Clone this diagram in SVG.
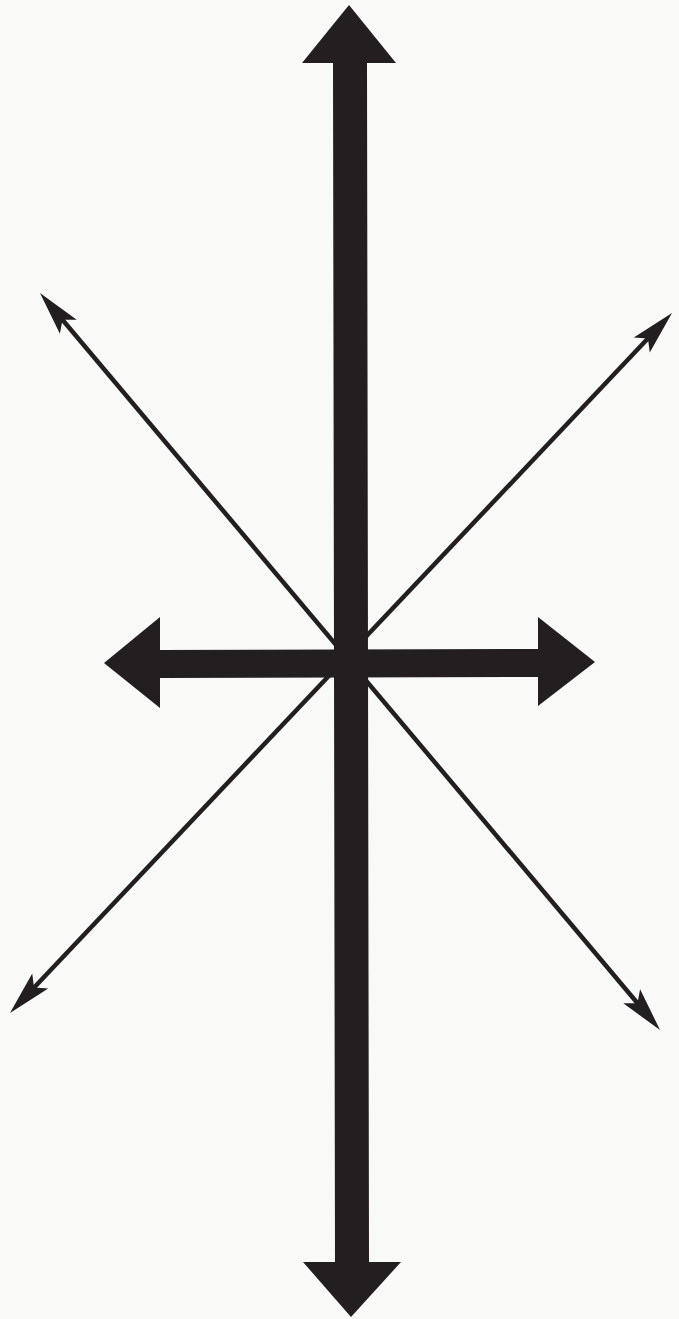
<svg xmlns="http://www.w3.org/2000/svg" width="679" height="1319" viewBox="0 0 679 1319">
  <style>
    .bg { fill: #f9f9f8; }
    .thick { fill: #231f20; stroke: none; }
    .thin { stroke: #231f20; stroke-width: 4.5; fill: none; }
  </style>
  <defs>
    <marker id="barb" markerUnits="userSpaceOnUse" viewBox="-18 -14 52 28" markerWidth="52" markerHeight="28" refX="0" refY="0" orient="auto-start-reverse">
      <path d="M30,0 L-14,-11 L-5,0 L-14,11 Z" fill="#231f20"/>
    </marker>
  </defs>
  <rect class="bg" x="0" y="0" width="679" height="1319"/>
  <g id="connectors">
    <g id="diagonal-1">
      <line class="thin" x1="59.3" y1="316" x2="640.7" y2="1007" marker-start="url(#barb)" marker-end="url(#barb)"/>
    </g>
    <g id="diagonal-2">
      <line class="thin" x1="651.4" y1="334.8" x2="30.6" y2="991.2" marker-start="url(#barb)" marker-end="url(#barb)"/>
    </g>
    <g id="vertical-arrow">
      <path class="thick" d="M349,5 L396,63 L367,63 L369,1262 L401,1262 L351,1317 L303,1262 L335,1262 L333,63 L302,63 Z"/>
    </g>
    <g id="horizontal-arrow">
      <path class="thick" d="M104,663 L160,617 L160,650 L538,649 L538,617 L595,662 L538,706 L538,677 L160,678 L160,708 Z"/>
    </g>
  </g>
</svg>
